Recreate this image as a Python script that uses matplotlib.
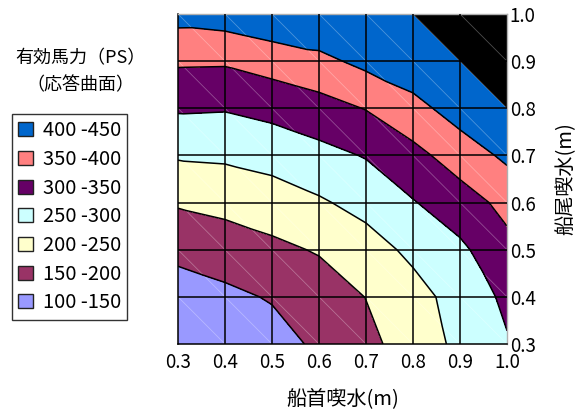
import numpy as np
import matplotlib
matplotlib.use("Agg")
import matplotlib.pyplot as plt
import matplotlib.tri as mtri
from matplotlib.colors import ListedColormap
from matplotlib.patches import Patch

plt.rcParams['font.family'] = ['Noto Sans CJK JP', 'DejaVu Sans']

#----- Datos -----

# 船首喫水 (eje x) y 船尾喫水 (eje y), en m
senshu = [0.3, 0.4, 0.5, 0.6, 0.7, 0.8, 0.9, 1.0]
senbi = [0.3, 0.4, 0.5, 0.6, 0.7, 0.8, 0.9, 1.0]

# 有効馬力 (PS): filas = 船尾喫水 0.3 -> 1.0, columnas = 船首喫水 0.3 -> 1.0
ehp = [
    [90, 107, 130, 159, 187, 223, 261, 296],
    [126, 139, 154, 174, 201, 232, 269, 310],
    [163, 175, 189, 204, 229, 261, 290, 337],
    [205, 214, 226, 244, 266, 297, 329, 363],
    [255, 258, 268, 285, 303, 336, 372, 410],
    [305.6, 303.5, 315, 331, 352, 383, 423.5, 449.5],
    [357, 356, 371.5, 387, 413, 435, 449.5, 475],
    [418, 425, 440, 445, 448, 449.5, 480, 500],
]

niveles = [100, 150, 200, 250, 300, 350, 400, 450]
colores = ['#9999FF', '#993366', '#FFFFCC', '#CCFFFF', '#660066', '#FF8080', '#0066CC']
etiquetas = ['100 -150', '150 -200', '200 -250', '250 -300',
             '300 -350', '350 -400', '400 -450']

#----- Triangulacion (diagonal "\" en cada celda) -----

nx, ny = len(senshu), len(senbi)
X, Y = np.meshgrid(senshu, senbi)
Z = np.array(ehp, dtype=float)

triangulos = []
for j in range(ny - 1):
    for i in range(nx - 1):
        bl = j * nx + i
        br = bl + 1
        tl = bl + nx
        tr = tl + 1
        triangulos.append([tl, bl, br])
        triangulos.append([tl, br, tr])
tri = mtri.Triangulation(X.ravel(), Y.ravel(), triangulos)

#----- Grafica -----

fig = plt.figure(figsize=(5.86, 4.09), dpi=100)
ax = fig.add_axes([178 / 586, 1 - 344 / 409, 329 / 586, 330 / 409])

cmap = ListedColormap(colores)
cmap.set_under(colores[0])
cmap.set_over('black')
ax.tricontourf(tri, Z.ravel(), levels=niveles, cmap=cmap, extend='both')

# diagonales tenues de los triangulos
for j in range(ny - 1):
    for i in range(nx - 1):
        ax.plot([senshu[i], senshu[i + 1]], [senbi[j + 1], senbi[j]],
                color='white', lw=0.6, alpha=0.3, zorder=2)

ax.tricontour(tri, Z.ravel(), levels=niveles[1:-1], colors='black', linewidths=1.1, zorder=2.5)

# cuadricula
for v in senshu[1:-1]:
    ax.axvline(v, color='black', lw=1.1, zorder=3)
for v in senbi[1:-1]:
    ax.axhline(v, color='black', lw=1.1, zorder=3)

ax.set_xlim(0.3, 1.0)
ax.set_ylim(0.3, 1.0)
ax.set_xticks(senshu)
ax.set_yticks(senbi)
ax.set_xticklabels([f'{v:.1f}' for v in senshu])
ax.set_yticklabels([f'{v:.1f}' for v in senbi])
ax.yaxis.tick_right()
ax.yaxis.set_label_position('right')
ax.tick_params(length=0, labelsize=13.5)
ax.tick_params(axis='x', pad=6)
ax.tick_params(axis='y', pad=2)

for s in ['left', 'bottom']:
    ax.spines[s].set_color('black')
    ax.spines[s].set_linewidth(1.1)
for s in ['top', 'right']:
    ax.spines[s].set_color('#B0B0B0')
    ax.spines[s].set_linewidth(1.0)

ax.set_xlabel('船首喫水(m)', fontsize=14.5, labelpad=11)
ax.set_ylabel('船尾喫水(m)', fontsize=14.5, labelpad=14)

# leyenda
fig.text(80 / 586, 1 - 58 / 409, '有効馬力（PS）', ha='center', va='center', fontsize=13)
fig.text(80 / 586, 1 - 85 / 409, '（応答曲面）', ha='center', va='center', fontsize=13)

handles = [Patch(facecolor=c, edgecolor='#222222', linewidth=1.0) for c in colores]
leg = fig.legend(handles[::-1], etiquetas[::-1], loc='upper left',
                 bbox_to_anchor=(12 / 586, 1 - 114 / 409), borderaxespad=0,
                 frameon=True, fancybox=False, edgecolor='black', fontsize=14.5,
                 handlelength=0.7, handleheight=0.7, handletextpad=0.5,
                 labelspacing=0.38, borderpad=0.32)
leg.get_frame().set_linewidth(1.0)

fig.savefig('out.png', dpi=100)
